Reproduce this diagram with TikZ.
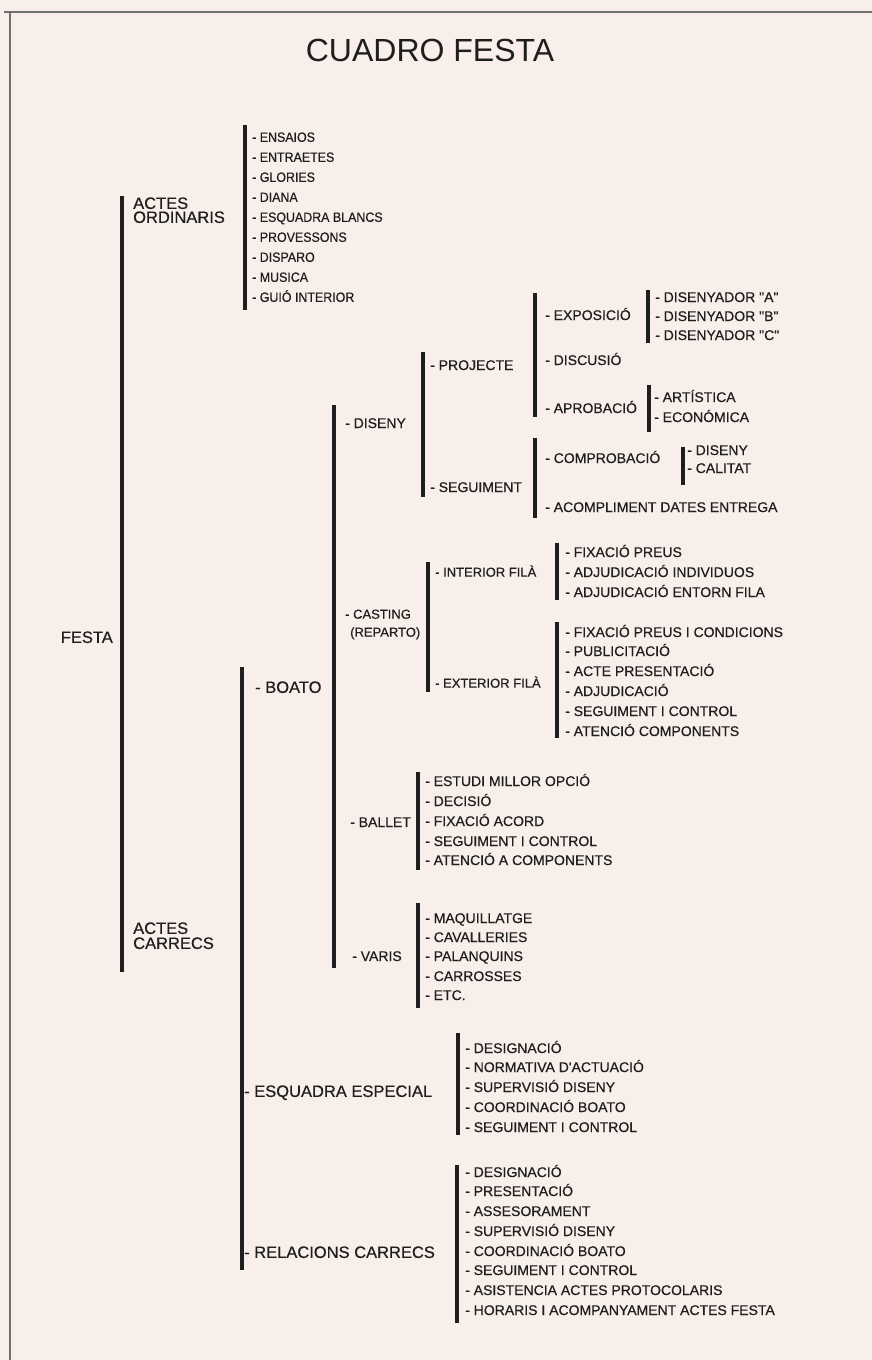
\documentclass[tikz,border=0pt]{standalone}
\usepackage{fontspec}
\setmainfont{Liberation Sans}
\newfontfamily\medfont{Liberation Sans}[FakeBold=0.5]
\newfontfamily\narfont{Liberation Sans}[FakeBold=0.5,FakeStretch=0.92]
\definecolor{paper}{HTML}{F8EFEA}
\definecolor{ink}{HTML}{1E1E1E}
\definecolor{framec}{HTML}{707070}
\newcommand\qd{\symbol{34}}
\begin{document}
\begin{tikzpicture}[x=1pt,y=-1pt,
  itm/.style={anchor=west, inner sep=0pt, text=ink, text height=10pt, text depth=0pt, font=\medfont\fontsize{14}{16}\selectfont},
  sml/.style={anchor=west, inner sep=0pt, text=ink, text height=9.4pt, text depth=0pt, font=\medfont\fontsize{13}{15}\selectfont},
  leaf/.style={anchor=west, inner sep=0pt, text=ink, text height=10pt, text depth=0pt, font=\medfont\fontsize{14}{16}\selectfont},
  ord/.style={anchor=west, inner sep=0pt, text=ink, text height=9.7pt, text depth=0pt, font=\narfont\fontsize{13.5}{15}\selectfont},
  big/.style={anchor=west, inner sep=0pt, text=ink, text height=11.8pt, text depth=0pt, font=\medfont\fontsize{16.5}{18}\selectfont},
  brk/.style={line width=3.8pt, draw=ink},
  frm/.style={line width=1.6pt, draw=framec}]
\useasboundingbox (0,0) rectangle (872,1360);
\fill[paper] (0,0) rectangle (872,1360);
% frame
\coordinate (fa) at (4,12); \coordinate (fb) at (872,12);
\coordinate (fc) at (10,12); \coordinate (fd) at (10,1360);
\draw[frm] (fa) -- (fb);
\draw[frm] (fc) -- (fd);
% title
\node[inner sep=0pt, text=ink, font=\fontsize{32}{36}\selectfont] (title) at (430,50) {CUADRO FESTA};
% root
\node[big, anchor=east] (festa) at (113,637) {FESTA};
\coordinate (m1) at (122,196); \coordinate (m2) at (122,972);
\draw[brk] (m1) -- (m2);
\node[big] (ao1) at (133,203) {ACTES};
\node[big] (ao2) at (133,217) {ORDINARIS};
\node[big] (ac1) at (133,928) {ACTES};
\node[big] (ac2) at (133,943) {CARRECS};
% actes ordinaris list
\coordinate (a1) at (245,125); \coordinate (a2) at (245,310);
\draw[brk] (a1) -- (a2);
\node[ord] (o1) at (252,137) {- ENSAIOS};
\node[ord] (o2) at (252,157) {- ENTRAETES};
\node[ord] (o3) at (252,177) {- GLORIES};
\node[ord] (o4) at (252,197) {- DIANA};
\node[ord] (o5) at (252,217) {- ESQUADRA BLANCS};
\node[ord] (o6) at (252,237) {- PROVESSONS};
\node[ord] (o7) at (252,257) {- DISPARO};
\node[ord] (o8) at (252,277) {- MUSICA};
\node[ord] (o9) at (252,297) {- GUIÓ INTERIOR};
% actes carrecs
\coordinate (b1) at (242,667); \coordinate (b2) at (242,1270);
\draw[brk] (b1) -- (b2);
\node[big] (boato) at (255,687) {- BOATO};
\node[big] (esq) at (244,1091) {- ESQUADRA ESPECIAL};
\node[big] (rel) at (244,1252) {- RELACIONS CARRECS};
% boato
\coordinate (c1) at (334,405); \coordinate (c2) at (334,968);
\draw[brk] (c1) -- (c2);
\node[itm] (diseny) at (345,423) {- DISENY};
\node[sml] (cast1) at (345,614) {- CASTING};
\node[sml] (cast2) at (350,632) {(REPARTO)};
\node[itm] (ballet) at (350,822) {- BALLET};
\node[itm] (varis) at (352,956) {- VARIS};
% diseny
\coordinate (d1) at (423,352); \coordinate (d2) at (423,497);
\draw[brk] (d1) -- (d2);
\node[itm] (proj) at (430,365) {- PROJECTE};
\node[itm] (segd) at (430,487) {- SEGUIMENT};
% projecte
\coordinate (p1) at (535,293); \coordinate (p2) at (535,417);
\draw[brk] (p1) -- (p2);
\node[itm] (expo) at (545,315) {- EXPOSICIÓ};
\node[itm] (disc) at (545,360) {- DISCUSIÓ};
\node[itm] (apro) at (545,408) {- APROBACIÓ};
% exposicio
\coordinate (e1) at (648,290); \coordinate (e2) at (648,343);
\draw[brk] (e1) -- (e2);
\node[leaf] (dA) at (655,297) {- DISENYADOR \qd A\qd};
\node[leaf] (dB) at (655,316) {- DISENYADOR \qd B\qd};
\node[leaf] (dC) at (655,335) {- DISENYADOR \qd C\qd};
% aprobacio
\coordinate (ap1) at (649,385); \coordinate (ap2) at (649,432);
\draw[brk] (ap1) -- (ap2);
\node[leaf] (art) at (654,397) {- ARTÍSTICA};
\node[leaf] (eco) at (654,417) {- ECONÓMICA};
% seguiment
\coordinate (s1) at (535,438); \coordinate (s2) at (535,518);
\draw[brk] (s1) -- (s2);
\node[itm] (comp) at (545,458) {- COMPROBACIÓ};
\node[leaf] (acom) at (545,507) {- ACOMPLIMENT DATES ENTREGA};
% comprobacio
\coordinate (k1) at (683,447); \coordinate (k2) at (683,485);
\draw[brk] (k1) -- (k2);
\node[leaf] (kd) at (687,450) {- DISENY};
\node[leaf] (kc) at (687,468) {- CALITAT};
% casting
\coordinate (g1) at (428,562); \coordinate (g2) at (428,692);
\draw[brk] (g1) -- (g2);
\node[sml] (intf) at (435,572) {- INTERIOR FILÀ};
\node[sml] (extf) at (435,683) {- EXTERIOR FILÀ};
% interior
\coordinate (i1) at (557,543); \coordinate (i2) at (557,600);
\draw[brk] (i1) -- (i2);
\node[leaf] (i01) at (565,552) {- FIXACIÓ PREUS};
\node[leaf] (i02) at (565,572) {- ADJUDICACIÓ INDIVIDUOS};
\node[leaf] (i03) at (565,592) {- ADJUDICACIÓ ENTORN FILA};
% exterior
\coordinate (x1) at (557,622); \coordinate (x2) at (557,738);
\draw[brk] (x1) -- (x2);
\node[leaf] (x01) at (565,632) {- FIXACIÓ PREUS I CONDICIONS};
\node[leaf] (x02) at (565,651) {- PUBLICITACIÓ};
\node[leaf] (x03) at (565,671) {- ACTE PRESENTACIÓ};
\node[leaf] (x04) at (565,691) {- ADJUDICACIÓ};
\node[leaf] (x05) at (565,711) {- SEGUIMENT I CONTROL};
\node[leaf] (x06) at (565,731) {- ATENCIÓ COMPONENTS};
% ballet
\coordinate (l1) at (418,772); \coordinate (l2) at (418,870);
\draw[brk] (l1) -- (l2);
\node[leaf] (l01) at (425,781) {- ESTUDI MILLOR OPCIÓ};
\node[leaf] (l02) at (425,801) {- DECISIÓ};
\node[leaf] (l03) at (425,821) {- FIXACIÓ ACORD};
\node[leaf] (l04) at (425,841) {- SEGUIMENT I CONTROL};
\node[leaf] (l05) at (425,860) {- ATENCIÓ A COMPONENTS};
% varis
\coordinate (v1) at (418,903); \coordinate (v2) at (418,1008);
\draw[brk] (v1) -- (v2);
\node[leaf] (v01) at (425,918) {- MAQUILLATGE};
\node[leaf] (v02) at (425,937) {- CAVALLERIES};
\node[leaf] (v03) at (425,956) {- PALANQUINS};
\node[leaf] (v04) at (425,976) {- CARROSSES};
\node[leaf] (v05) at (425,995) {- ETC.};
% esquadra especial
\coordinate (q1) at (458,1033); \coordinate (q2) at (458,1135);
\draw[brk] (q1) -- (q2);
\node[leaf] (q01) at (465,1048) {- DESIGNACIÓ};
\node[leaf] (q02) at (465,1067) {- NORMATIVA D'ACTUACIÓ};
\node[leaf] (q03) at (465,1087) {- SUPERVISIÓ DISENY};
\node[leaf] (q04) at (465,1107) {- COORDINACIÓ BOATO};
\node[leaf] (q05) at (465,1127) {- SEGUIMENT I CONTROL};
% relacions carrecs
\coordinate (r1) at (457,1165); \coordinate (r2) at (457,1323);
\draw[brk] (r1) -- (r2);
\node[leaf] (r01) at (465,1172) {- DESIGNACIÓ};
\node[leaf] (r02) at (465,1191) {- PRESENTACIÓ};
\node[leaf] (r03) at (465,1211) {- ASSESORAMENT};
\node[leaf] (r04) at (465,1231) {- SUPERVISIÓ DISENY};
\node[leaf] (r05) at (465,1251) {- COORDINACIÓ BOATO};
\node[leaf] (r06) at (465,1270) {- SEGUIMENT I CONTROL};
\node[leaf] (r07) at (465,1290) {- ASISTENCIA ACTES PROTOCOLARIS};
\node[leaf] (r08) at (465,1310) {- HORARIS I ACOMPANYAMENT ACTES FESTA};
\end{tikzpicture}
\end{document}
